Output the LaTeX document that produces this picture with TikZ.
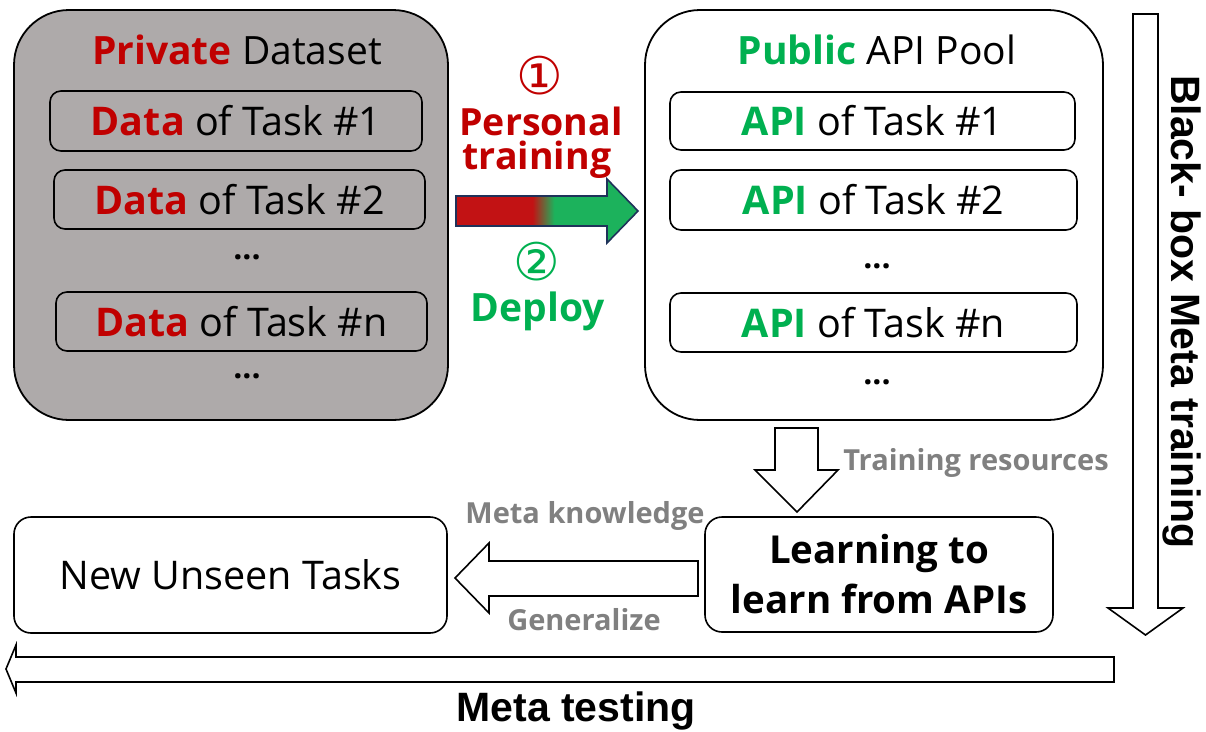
\documentclass[tikz,border=0pt]{standalone}
\usepackage{fontspec}
\setmainfont{Open Sans}
\newfontfamily\djv{DejaVu Sans}
\newfontfamily\arl{Liberation Sans}
\usetikzlibrary{positioning}
\definecolor{myred}{RGB}{192,0,0}
\definecolor{mygreen}{RGB}{0,176,80}
\definecolor{mygray}{RGB}{174,170,170}
\definecolor{labgray}{RGB}{128,128,128}
\definecolor{navy}{RGB}{31,50,90}
\definecolor{arred}{RGB}{194,18,20}
\definecolor{argreen}{RGB}{28,178,92}
\pgfdeclarehorizontalshading{redgreen}{100bp}{color(0bp)=(arred); color(46bp)=(arred); color(52bp)=(argreen); color(100bp)=(argreen)}
\begin{document}
\begin{tikzpicture}[x=1pt,y=-1pt,
  bigbox/.style={draw=black,line width=1.8pt,rounded corners=55pt,inner sep=0pt},
  taskbox/.style={draw=black,line width=1.6pt,rounded corners=11pt,fill=none,inner sep=0pt,font=\fontsize{39.5}{42}\selectfont},
  botbox/.style={draw=black,line width=1.6pt,rounded corners=17pt,fill=white,inner sep=0pt},
  txt/.style={inner sep=0pt,font=\fontsize{39}{42}\selectfont},
  dots/.style={inner sep=0pt,font=\fontsize{32}{32}\selectfont\bfseries},
  lab/.style={inner sep=0pt,text=labgray,font=\fontsize{29}{30}\selectfont\bfseries},
  blockarrow/.style={draw=black,line width=1.6pt,fill=white,line join=miter}]
\useasboundingbox (0,0) rectangle (1206,731);

% Private dataset
\node[bigbox,fill=mygray,minimum width=434pt,minimum height=410pt] (priv) at (231,215) {};
\node[txt] (privt) at (237,50) {\textcolor{myred}{\bfseries Private} Dataset};
\node[taskbox,minimum width=372pt,minimum height=60pt] (d1) at (236,121) {\textcolor{myred}{\bfseries Data} of Task \#1};
\node[taskbox,minimum width=371pt,minimum height=59pt] (d2) at (239.5,199.5) {\textcolor{myred}{\bfseries Data} of Task \#2};
\node[dots] (dd1) at (247,257) {...};
\node[taskbox,minimum width=371pt,minimum height=59pt] (dn) at (241.5,321.5) {\textcolor{myred}{\bfseries Data} of Task \#n};
\node[dots] (dd2) at (247,376) {...};

% Public API pool
\node[bigbox,fill=white,minimum width=458pt,minimum height=410pt] (pub) at (874,215) {};
\node[txt] (pubt) at (877,50) {\textcolor{mygreen}{\bfseries Public} API Pool};
\node[taskbox,minimum width=405pt,minimum height=58pt] (a1) at (872.5,121) {\textcolor{mygreen}{\bfseries API} of Task \#1};
\node[taskbox,minimum width=407pt,minimum height=60pt] (a2) at (873.5,200) {\textcolor{mygreen}{\bfseries API} of Task \#2};
\node[dots] (ad1) at (877,266) {...};
\node[taskbox,minimum width=407pt,minimum height=59pt] (an) at (873.5,322.5) {\textcolor{mygreen}{\bfseries API} of Task \#n};
\node[dots] (ad2) at (877,382) {...};

% middle gradient arrow
\shade[shading=redgreen,draw=navy,line width=1.6pt,line join=miter]
  (456,196) -- (607,196) -- (607,179) -- (638,211) -- (607,243) -- (607,226) -- (456,226) -- cycle;
\node[inner sep=0pt,text=myred,font=\djv\fontsize{52}{52}\selectfont] (c1) at (540,76) {①};
\node[inner sep=0pt,text=myred,font=\fontsize{37.5}{38}\selectfont\bfseries] (pt1) at (541,121) {Personal};
\node[inner sep=0pt,text=myred,font=\fontsize{37.5}{38}\selectfont\bfseries] (pt2) at (537,160) {training};
\node[inner sep=0pt,text=mygreen,font=\djv\fontsize{52}{52}\selectfont] (c2) at (537,262) {②};
\node[inner sep=0pt,text=mygreen,font=\fontsize{39}{40}\selectfont\bfseries] (dep) at (538,311) {Deploy};

% Learning box and new tasks
\node[botbox,minimum width=348pt,minimum height=115pt,align=center,font=\fontsize{38.5}{50}\selectfont\bfseries] (learn) at (879,574.5) {Learning to\\learn from APIs};
\node[botbox,minimum width=433pt,minimum height=116pt,font=\fontsize{39.5}{42}\selectfont] (new) at (230.5,575) {New Unseen Tasks};

% training resources arrow
\draw[blockarrow] (775,428) -- (818,428) -- (818,470) -- (838,470) -- (797,512) -- (755,470) -- (775,470) -- cycle;
\node[lab] (tr) at (976,463) {Training resources};

% generalize arrow
\draw[blockarrow] (698,561) -- (489,561) -- (489,543) -- (455,578) -- (489,613) -- (489,596) -- (698,596) -- cycle;
\node[lab] (mk) at (585,516) {Meta knowledge};
\node[lab] (gen) at (584,620) {Generalize};

% right vertical arrow
\draw[blockarrow] (1133,14) -- (1158,14) -- (1158,608) -- (1183,608) -- (1145.5,635) -- (1108,608) -- (1133,608) -- cycle;
\node[inner sep=0pt,rotate=-90,anchor=base,font=\arl\fontsize{41}{42}\selectfont\bfseries] (bb) at (1171,312) {Black- box Meta training};

% bottom arrow
\draw[blockarrow] (1114,657) -- (16,657) -- (16,645) -- (6,669) -- (16,693) -- (16,682) -- (1114,682) -- cycle;
\node[inner sep=0pt,font=\arl\fontsize{41}{42}\selectfont\bfseries] (mt) at (576,711) {Meta testing};
\end{tikzpicture}
\end{document}
